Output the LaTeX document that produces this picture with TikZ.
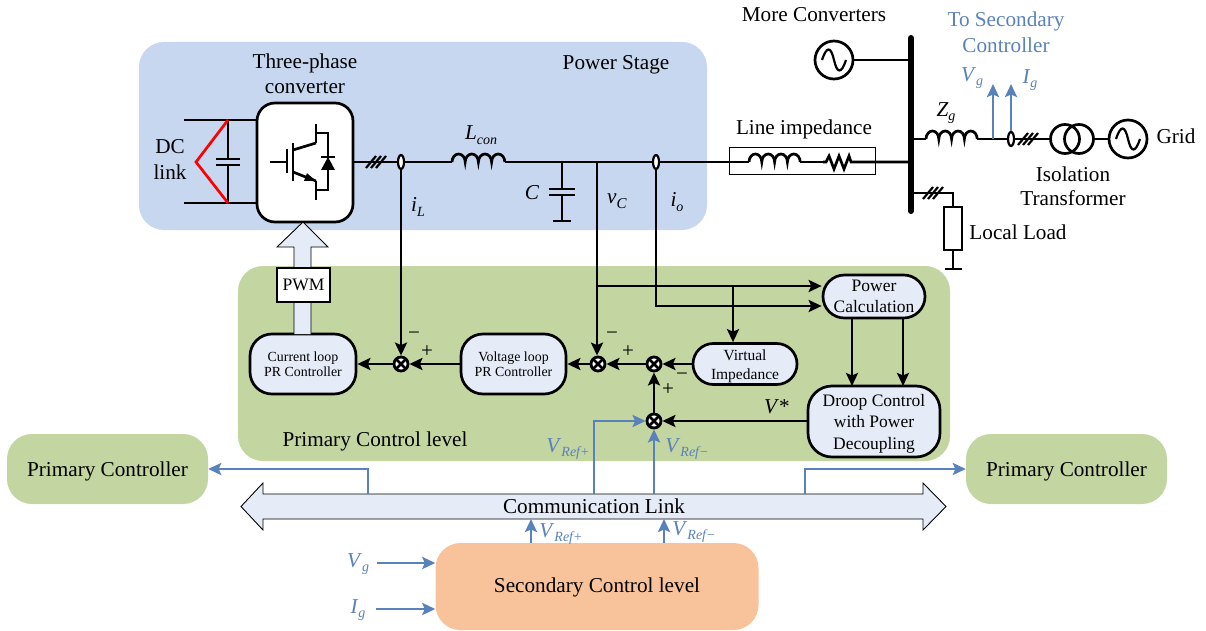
\documentclass[tikz,border=0pt]{standalone}
\usepackage{fontspec}
\setmainfont{Liberation Serif}
\usetikzlibrary{arrows.meta,shapes.geometric}
\definecolor{bgblue}{HTML}{C6D7EF}
\definecolor{bggreen}{HTML}{C3D5A0}
\definecolor{bgorange}{HTML}{F8C39A}
\definecolor{boxfill}{HTML}{E6ECF7}
\definecolor{sigblue}{HTML}{5A82BA}
\newcommand{\fs}[1]{\fontsize{#1}{#1}\selectfont}
\newcommand{\vsub}[3][14]{\textit{#2}\raisebox{-0.22em}{\fs{#1}\textit{#3}}}
\newcommand{\inductor}[3]{% x y humpwidth
  \draw[wire] (#1,#2) arc[start angle=180,end angle=0,x radius=#3pt,y radius=8pt]
    arc[start angle=180,end angle=0,x radius=#3pt,y radius=8pt]
    arc[start angle=180,end angle=0,x radius=#3pt,y radius=8pt]
    arc[start angle=180,end angle=0,x radius=#3pt,y radius=8pt];}
\newcommand{\slashes}[2]{% x y
  \foreach \d in {-5,0,5}{\draw[line width=2.2pt] (#1+\d-5,#2+6) -- (#1+\d+5,#2-6);}}
\newcommand{\acsource}[3]{% name x y
  \node[srccirc] (#1) at (#2,#3) {};
  \draw[line width=2.2pt] (#2-12,#3) .. controls (#2-7,#3-15) and (#2-3,#3-13) .. (#2,#3) .. controls (#2+3,#3+13) and (#2+7,#3+15) .. (#2+12,#3);}
\tikzset{
  x=1pt,y=-1pt,
  panel/.style={rounded corners=25pt,draw=none},
  wire/.style={line width=2.7pt,black},
  flow/.style={line width=2.7pt,black,-{Stealth[length=13pt,width=12pt,inset=2.5pt]}},
  sig/.style={line width=2.7pt,sigblue,-{Stealth[length=13pt,width=12pt,inset=2.5pt]}},
  ctrl/.style={draw=black,line width=2.7pt,fill=boxfill,inner sep=0pt,align=center},
  sumj/.style={circle,draw=black,fill=white,line width=2.8pt,minimum size=14pt,inner sep=0pt,
    path picture={\draw[line width=2.8pt] (path picture bounding box.north west)--(path picture bounding box.south east)
      (path picture bounding box.north east)--(path picture bounding box.south west);}},
  txt/.style={inner sep=0pt,align=center,font=\fs{21.2}},
  blu/.style={txt,text=sigblue},
  sgn/.style={inner sep=0pt,font=\fs{21}},
  ct/.style={ellipse,draw=black,fill=white,line width=2.2pt,minimum width=6pt,minimum height=14pt,inner sep=0pt},
  srccirc/.style={circle,draw=black,line width=2.7pt,minimum size=38pt,inner sep=0pt,fill=white},
  blockarrow/.style={draw=black,line width=0.9pt,fill=boxfill},
}
\begin{document}
\begin{tikzpicture}
\useasboundingbox (0,0) rectangle (1206,631);
% panels
\node[panel,fill=bgblue,minimum width=568pt,minimum height=188pt,inner sep=0pt] (stage) at (423,136) {};
\node[panel,fill=bggreen,minimum width=712pt,minimum height=195pt,inner sep=0pt] (primary) at (594,363.5) {};
\node[panel,fill=bggreen,minimum width=201pt,minimum height=70pt,inner sep=0pt,font=\fs{21.2}] (pcl) at (107.5,469) {\smash{\raisebox{-7pt}{Primary Controller}}};
\node[panel,fill=bggreen,minimum width=201pt,minimum height=70pt,inner sep=0pt,font=\fs{21.2}] (pcr) at (1066.5,469) {\smash{\raisebox{-7pt}{Primary Controller}}};
\node[panel,fill=bgorange,minimum width=323pt,minimum height=87pt,inner sep=0pt,font=\fs{21.2}] (sec) at (597,586.5) {\smash{\raisebox{-6pt}{Secondary Control level}}};

% DC link
\coordinate (dcta) at (184,120); \coordinate (dctb) at (257,120);
\coordinate (dcba) at (184,203); \coordinate (dcbb) at (257,203);
\coordinate (capt) at (228,120); \coordinate (capb) at (228,203);
\coordinate (capu) at (228,159); \coordinate (capl) at (228,165);
\draw[wire] (dcta)--(dctb); \draw[wire] (dcba)--(dcbb);
\draw[wire] (capt)--(capu); \draw[wire] (capl)--(capb);
\draw[wire] (216,159)--(240,159); \draw[wire] (216,165)--(240,165);
\draw[red,line width=2.7pt] (capt)--(196,162)--(capb);

% converter
\node[draw=black,line width=2.7pt,fill=white,rounded corners=18pt,minimum width=96pt,minimum height=119pt,inner sep=0pt] (conv) at (305,162.5) {};
\draw[wire] (270,162)--(287,162); \draw[wire] (287,149)--(287,173);
\draw[wire] (293,143)--(293,181);
\draw[wire] (293,150)--(316,143);
\draw[wire] (293,172)--(316,181);
\fill[black] (316,181)--(307,173.2)--(304,180.8)--cycle;
\draw[wire] (316,124)--(316,143); \draw[wire] (316,181)--(316,200);
\draw[line width=2.2pt] (316,133)--(328,133)--(328,190)--(316,190);
\fill[black] (328,157)--(321,170)--(335,170)--cycle;
\draw[line width=2.2pt] (321,157)--(335,157);

% main line
\coordinate (ldl) at (452,162); \coordinate (ldr) at (505,162);
\coordinate (nC) at (562,162); \coordinate (nV) at (597,162);
\coordinate (lx) at (749,162); \coordinate (lxr) at (800,162);
\coordinate (rxl) at (823,162); \coordinate (rxr) at (853,162); \coordinate (busL) at (911,162);
\draw[wire] (conv.east |- 353,162)--(ldl); \inductor{452}{162}{6.6}
\draw[wire] (ldr)--(lx); \inductor{749}{162}{6.4}
\draw[wire] (lxr)--(rxl);
\draw[wire] (rxl)--(826,162)--(829,156)--(834,169)--(839,156)--(844,169)--(849,156)--(851,162)--(rxr)--(busL);
\draw[line width=0.8pt,black] (729,147) rectangle (875,174);
\slashes{376}{162}

% C
\coordinate (cu) at (562,189); \coordinate (cl) at (562,195); \coordinate (cg) at (562,221);
\draw[wire] (nC)--(cu); \draw[wire] (cl)--(cg);
\draw[wire] (549,189)--(575,189); \draw[wire] (549,195)--(575,195);
\draw[wire] (553,221)--(571,221);

% sums and boxes
\node[sumj] (s1) at (401,364) {};
\node[sumj] (s2) at (598,364) {};
\node[sumj] (s3) at (654,364) {};
\node[sumj] (s4) at (654,421) {};
\node[ctrl,rounded corners=22pt,minimum width=106pt,minimum height=60pt,font=\fs{13.9}] (cur) at (303,364) {Current loop\\[1.5pt]PR Controller};
\node[ctrl,rounded corners=22pt,minimum width=105pt,minimum height=60pt,font=\fs{13.9}] (vol) at (513.5,364) {Voltage loop\\[1.5pt]PR Controller};
\node[ctrl,rounded corners=20.4pt,minimum width=104pt,minimum height=41pt,font=\fs{15.5}] (vir) at (745,364) {\rule{0pt}{15pt}Virtual\\[4pt]Impedance};
\node[ctrl,rounded corners=21.4pt,minimum width=102pt,minimum height=43pt,font=\fs{17.5}] (pow) at (874,296.5) {Power\\[4pt]Calculation};
\node[ctrl,rounded corners=24pt,minimum width=132pt,minimum height=71pt,font=\fs{17.5}] (dro) at (874,421.5) {\rule{0pt}{16.5pt}Droop Control\\[4pt]with Power\\[4pt]Decoupling};

% sensing
\node[ct] (ctL) at (401,162) {};
\node[ct] (ctO) at (656,162) {};
\coordinate (jV) at (597,286); \coordinate (jO) at (656,306); \coordinate (jB) at (733,286);
\draw[flow] (ctL)--(s1);
\draw[flow] (nV)--(s2.north -| nV);
\draw[flow] (jV)--(jV -| pow.west);
\draw[flow] (ctO.south)--(jO)--(jO -| pow.west);
\draw[flow] (jB)--(jB |- vir.north);
\draw[flow] (852,318)--(852,386);
\draw[flow] (903,318)--(903,386);
\draw[flow] (dro.west |- s4)--(s4);
\draw[flow] (vir.west |- s3)--(s3);
\draw[flow] (s4)--(s3);
\draw[flow] (s3)--(s2);
\draw[flow] (s2)--(vol);
\draw[flow] (vol)--(s1);
\draw[flow] (s1)--(cur);

% block arrows
\draw[blockarrow] (294,334)--(294,247)--(277,247)--(303,222)--(328,247)--(311,247)--(311,334);
\node[draw=black,line width=2.2pt,fill=white,minimum width=53pt,minimum height=34pt,inner sep=0pt,font=\fs{17.5}] (pwm) at (303.5,285) {PWM};
\draw[blockarrow] (263,494)--(263,483)--(241,506.5)--(263,530)--(263,519)--(923,519)--(923,530)--(946,506.5)--(923,483)--(923,494)--cycle;
\node[txt] (comm) at (594,506.5) {Communication Link};

% blue signals
\coordinate (lkA) at (368,494); \coordinate (lkB) at (805,494);
\coordinate (lkC) at (594,494); \coordinate (lkD) at (654,494);
\draw[sig] (lkA)--(368,469)--(pcl.east);
\draw[sig] (lkB)--(805,469)--(pcr.west);
\draw[sig] (lkC)--(594,421)--(s4);
\draw[sig] (lkD)--(s4);
\coordinate (secA) at (531,543); \coordinate (secB) at (664,543);
\coordinate (lkE) at (531,519); \coordinate (lkF) at (664,519);
\draw[sig] (secA)--(lkE); \draw[sig] (secB)--(lkF);
\coordinate (vgin) at (377,563); \coordinate (igin) at (376,609);
\draw[sig] (vgin)--(vgin -| sec.west);
\draw[sig] (igin)--(igin -| sec.west);

% bus and right side
\draw[line width=6pt,line cap=round] (911,38)--(911,211);
\acsource{gen}{834}{60}
\draw[wire] (gen)--(911,60);
\coordinate (zl) at (926,139); \coordinate (zr) at (977,139);
\draw[wire] (911,139)--(zl); \inductor{926}{139}{6.4}
\node[ct] (ctG) at (1011,139) {};
\draw[wire] (zr)--(ctG);
\node[circle,draw=black,line width=2.7pt,minimum size=29pt,inner sep=0pt] (trl) at (1065,139) {};
\node[circle,draw=black,line width=2.7pt,minimum size=29pt,inner sep=0pt] (trr) at (1079,139) {};
\draw[wire] (ctG)--(trl);
\slashes{1028}{139}
\acsource{grid}{1128}{139}
\draw[wire] (trr)--(grid);
\coordinate (vg0) at (993,139); \coordinate (vg1) at (993,84); \coordinate (ig1) at (1011,84);
\draw[sig] (vg0)--(vg1);
\draw[sig] (ctG.north)--(ig1);
% load
\node[draw=black,line width=2.7pt,minimum width=18pt,minimum height=43pt,inner sep=0pt] (load) at (953,228.5) {};
\draw[wire] (911,193)--(953,193)--(load.north);
\slashes{933}{193}
\draw[wire] (load.south)--(953,269);
\draw[wire] (945,269)--(962,269);

% labels
\node[txt] (t01) at (814,15) {More Converters};
\node[blu] (t02) at (1006,21) {To Secondary};
\node[blu] (t03) at (1006,45) {Controller};
\node[blu] (t04) at (972,78) {\vsub{V}{g}};
\node[blu] (t05) at (1030,80) {\vsub{I}{g}};
\node[txt] (t06) at (946,113) {\vsub{Z}{g}};
\node[txt] (t07) at (804,129) {Line impedance};
\node[txt] (t08) at (1176,136) {Grid};
\node[txt] (t09) at (1073,174) {Isolation};
\node[txt] (t10) at (1073,198) {Transformer};
\node[txt] (t11) at (1018,232) {Local Load};
\node[txt] (t12) at (305,63) {Three-phase};
\node[txt] (t13) at (305,88) {converter};
\node[txt] (t14) at (616,65) {Power Stage};
\node[txt] (t15) at (170,147) {DC};
\node[txt] (t16) at (170,172) {link};
\node[txt] (t17) at (481,135) {\vsub{L}{con}};
\node[txt] (t18) at (532,193) {\textit{C}};
\node[txt] (t19) at (617,201) {\textit{v}\raisebox{-0.22em}{\fs{15}\textit{C}}};
\node[txt] (t20) at (677,202) {\vsub{i}{o}};
\node[txt] (t21) at (418,207) {\vsub{i}{L}};
\node[txt] (t22) at (375,441) {Primary Control level};
\node[txt] (t23) at (777,407) {\textit{V}*};
\node[blu] (t24) at (568,449) {\vsub{V}{Ref+}};
\node[blu] (t25) at (687,449) {\vsub{V}{Ref−}};
\node[blu] (t26) at (561,534) {\vsub{V}{Ref+}};
\node[blu] (t27) at (694,532) {\vsub{V}{Ref−}};
\node[blu] (t28) at (358,564) {\vsub{V}{g}};
\node[blu] (t29) at (358,610) {\vsub{I}{g}};
\node[sgn] (m1) at (414,336) {−};
\node[sgn] (p1) at (427,352) {+};
\node[sgn] (m2) at (612,336) {−};
\node[sgn] (p2) at (628,352) {+};
\node[sgn] (m3) at (682,377) {−};
\node[sgn] (p3) at (668,390) {+};
\end{tikzpicture}
\end{document}
